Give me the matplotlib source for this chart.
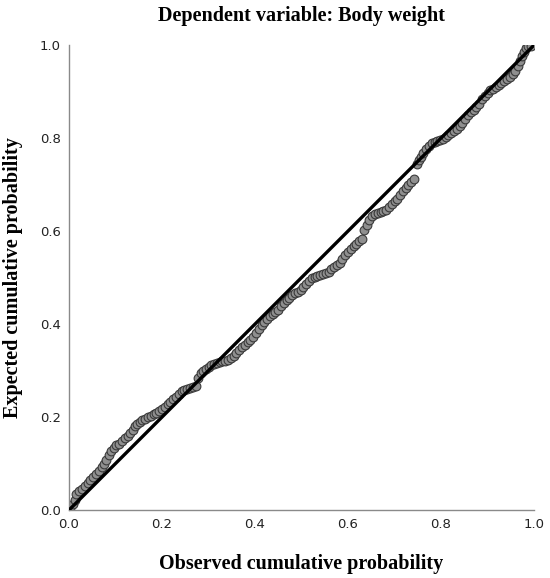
import matplotlib
matplotlib.use("Agg")
import matplotlib.pyplot as plt
import numpy as np

# valeurs (P-P plot)
observed = [0.003, 0.008, 0.012, 0.016, 0.022, 0.028, 0.034, 0.040, 0.046, 0.052,
            0.058, 0.064, 0.070, 0.075, 0.080, 0.086, 0.091, 0.096, 0.102, 0.108,
            0.114, 0.120, 0.126, 0.132, 0.138, 0.142, 0.146, 0.152, 0.158, 0.164,
            0.170, 0.176, 0.182, 0.188, 0.194, 0.200, 0.206, 0.212, 0.218, 0.224,
            0.230, 0.236, 0.242, 0.248, 0.254, 0.260, 0.266, 0.272, 0.278, 0.283,
            0.288, 0.294, 0.300, 0.306, 0.312, 0.318, 0.324, 0.330, 0.336, 0.342,
            0.348, 0.354, 0.360, 0.366, 0.372, 0.378, 0.384, 0.390, 0.396, 0.402,
            0.408, 0.414, 0.420, 0.426, 0.432, 0.438, 0.444, 0.450, 0.456, 0.462,
            0.468, 0.474, 0.480, 0.486, 0.492, 0.498, 0.504, 0.510, 0.516, 0.522,
            0.528, 0.534, 0.540, 0.546, 0.552, 0.558, 0.564, 0.570, 0.576, 0.582,
            0.588, 0.594, 0.600, 0.606, 0.612, 0.618, 0.624, 0.630,
            0.634, 0.640, 0.646, 0.652, 0.658, 0.664, 0.670, 0.676, 0.682, 0.688,
            0.694, 0.700, 0.706, 0.712, 0.718, 0.724, 0.730, 0.736, 0.741,
            0.748, 0.752, 0.757, 0.762, 0.768, 0.774, 0.780, 0.786, 0.792, 0.798,
            0.804, 0.810, 0.816, 0.822, 0.828, 0.834, 0.840, 0.846, 0.852, 0.858,
            0.864, 0.870, 0.876, 0.882, 0.888, 0.894, 0.900, 0.906, 0.912, 0.918,
            0.924, 0.930, 0.936, 0.942, 0.948, 0.954, 0.960, 0.965, 0.970, 0.974,
            0.978, 0.983, 0.988, 0.994]
expected = [0.004, 0.012, 0.022, 0.034, 0.040, 0.046, 0.052, 0.058, 0.064, 0.072,
            0.078, 0.083, 0.092, 0.100, 0.108, 0.118, 0.127, 0.133, 0.139, 0.142,
            0.148, 0.155, 0.160, 0.165, 0.172, 0.180, 0.186, 0.190, 0.193, 0.196,
            0.200, 0.203, 0.206, 0.209, 0.212, 0.217, 0.222, 0.228, 0.232, 0.238,
            0.244, 0.250, 0.255, 0.258, 0.261, 0.262, 0.264, 0.266, 0.285, 0.295,
            0.299, 0.303, 0.307, 0.311, 0.314, 0.316, 0.318, 0.320, 0.321, 0.322,
            0.326, 0.332, 0.338, 0.344, 0.350, 0.356, 0.361, 0.366, 0.372, 0.380,
            0.390, 0.397, 0.404, 0.410, 0.417, 0.421, 0.425, 0.430, 0.438, 0.446,
            0.452, 0.457, 0.462, 0.466, 0.470, 0.474, 0.480, 0.487, 0.493, 0.498,
            0.501, 0.503, 0.505, 0.507, 0.509, 0.513, 0.518, 0.523, 0.528, 0.532,
            0.540, 0.548, 0.556, 0.562, 0.568, 0.573, 0.578, 0.584,
            0.603, 0.614, 0.624, 0.632, 0.636, 0.639, 0.641, 0.643, 0.646, 0.652,
            0.658, 0.664, 0.670, 0.678, 0.686, 0.693, 0.700, 0.706, 0.712,
            0.744, 0.752, 0.760, 0.768, 0.776, 0.784, 0.789, 0.791, 0.793, 0.795,
            0.799, 0.803, 0.806, 0.810, 0.815, 0.820, 0.826, 0.833, 0.842, 0.850,
            0.856, 0.861, 0.867, 0.874, 0.883, 0.891, 0.898, 0.903, 0.906, 0.910,
            0.914, 0.918, 0.922, 0.927, 0.932, 0.937, 0.945, 0.955, 0.966, 0.977,
            0.986, 0.993, 0.997, 0.999]
ref_line = [0.0, 1.0]
ticks = [0.0, 0.2, 0.4, 0.6, 0.8, 1.0]
tick_labels = ["0.0", "0.2", "0.4", "0.6", "0.8", "1.0"]

fig = plt.figure(figsize=(5.5, 5.78), dpi=100)
ax = fig.add_axes([0.1255, 0.1176, 0.8455, 0.8044])

ax.plot(observed, expected, linestyle="none", marker="o", markersize=6.3,
        markerfacecolor="#8f8f8f", markeredgecolor="#3a3a3a", markeredgewidth=0.8,
        zorder=2)
ax.plot(ref_line, ref_line, color="black", linewidth=2.4, zorder=3)

ax.set_xlim(0, 1)
ax.set_ylim(0, 1)
ax.set_xticks(ticks)
ax.set_xticklabels(tick_labels)
ax.set_yticks(ticks)
ax.set_yticklabels(tick_labels)
ax.tick_params(length=0, labelsize=9.5, colors="#222222", pad=6)

for s in ["top", "right"]:
    ax.spines[s].set_visible(False)
for s in ["left", "bottom"]:
    ax.spines[s].set_color("#8a8a8a")
    ax.spines[s].set_linewidth(1.0)

serif = {"family": "Liberation Serif", "weight": "bold", "size": 14.5}
ax.set_title("Dependent variable: Body weight", fontdict=serif, pad=17)
ax.set_xlabel("Observed cumulative probability", fontdict=serif, labelpad=16)
ax.set_ylabel("Expected cumulative probability", fontdict=serif, labelpad=12)

fig.savefig("out.png", dpi=100)
